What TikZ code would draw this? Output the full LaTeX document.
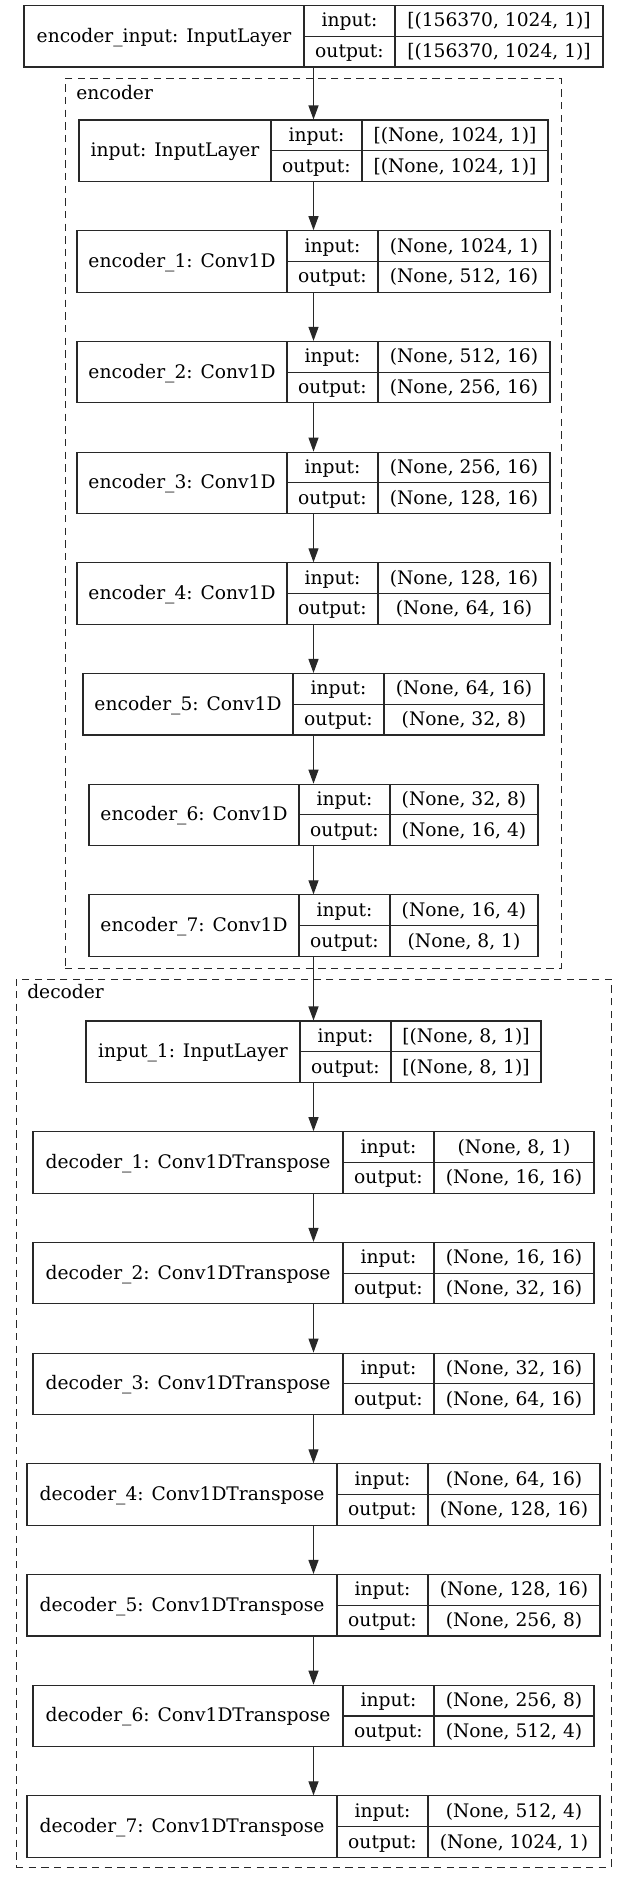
\documentclass[tikz,border=0pt]{standalone}
\usepackage{fontspec}
\setmainfont{DejaVu Serif}
\usetikzlibrary{arrows.meta}
\definecolor{linegray}{RGB}{40,40,40}
\tikzset{
  recbox/.style={draw=linegray, line width=0.8pt, inner sep=0pt, minimum height=46.125pt},
  recline/.style={draw=linegray, line width=0.8pt},
  lbl/.style={anchor=base, inner sep=0pt, font=\fontsize{14}{16}\selectfont},
  clusterbox/.style={draw=linegray, line width=0.75pt, dash pattern=on 5.5pt off 4pt, inner sep=0pt},
  clusterlbl/.style={anchor=base west, inner sep=0pt, font=\fontsize{14}{16}\selectfont},
  arr/.style={draw=linegray, line width=0.85pt, -{Triangle[length=10.5pt,width=7.5pt]}}
}
% #1 name, #2 top, #3 left, #4 div1, #5 div2, #6 right, #7 label, #8 input shape, #9 output shape
\newcommand\layerbox[9]{%
  \node[recbox, minimum width={(#6-#3)*0.75pt}] (#1) at ({(#3+#6)/2},{#2+30.75}) {};
  \draw[recline] (#4,#2) -- (#4,{#2+61.5});
  \draw[recline] (#5,#2) -- (#5,{#2+61.5});
  \draw[recline] (#4,{#2+30.75}) -- (#6,{#2+30.75});
  \node[lbl] (#1-name) at ({(#3+#4)/2},{#2+36.75}) {#7};
  \node[lbl] (#1-inlbl) at ({(#4+#5)/2},{#2+21.4}) {input:};
  \node[lbl] (#1-outlbl) at ({(#4+#5)/2},{#2+52.1}) {output:};
  \node[lbl] (#1-in) at ({(#5+#6)/2},{#2+21.4}) {#8};
  \node[lbl] (#1-out) at ({(#5+#6)/2},{#2+52.1}) {#9};
}
\begin{document}
\begin{tikzpicture}[x=0.75pt, y=-0.75pt]
\useasboundingbox (0,0) rectangle (624,1884);
% clusters
\node[clusterbox, minimum width={496.5*0.75pt}, minimum height={889*0.75pt}] (encoder) at (313.25,523.5) {};
\node[clusterlbl] (encoder-label) at (76,99) {encoder};
\node[clusterbox, minimum width={595*0.75pt}, minimum height={888*0.75pt}] (decoder) at (313.5,1423) {};
\node[clusterlbl] (decoder-label) at (27,998.5) {decoder};
% layers
\layerbox{top}{5.5}{24}{304}{395}{603}{encoder\_input: InputLayer}{[(156370, 1024, 1)]}{[(156370, 1024, 1)]}
\layerbox{inp}{120}{79}{271}{362}{548}{input: InputLayer}{[(None, 1024, 1)]}{[(None, 1024, 1)]}
\layerbox{e1}{230.7}{77}{287}{378}{550}{encoder\_1: Conv1D}{(None, 1024, 1)}{(None, 512, 16)}
\layerbox{e2}{341.4}{77}{287}{378}{550}{encoder\_2: Conv1D}{(None, 512, 16)}{(None, 256, 16)}
\layerbox{e3}{452.1}{77}{287}{378}{550}{encoder\_3: Conv1D}{(None, 256, 16)}{(None, 128, 16)}
\layerbox{e4}{562.8}{77}{287}{378}{550}{encoder\_4: Conv1D}{(None, 128, 16)}{(None, 64, 16)}
\layerbox{e5}{673.5}{83}{293}{384}{544}{encoder\_5: Conv1D}{(None, 64, 16)}{(None, 32, 8)}
\layerbox{e6}{784.2}{89}{299}{390}{538}{encoder\_6: Conv1D}{(None, 32, 8)}{(None, 16, 4)}
\layerbox{e7}{894.9}{89}{299}{390}{538}{encoder\_7: Conv1D}{(None, 16, 4)}{(None, 8, 1)}
\layerbox{inp1}{1021}{86}{300}{391}{541}{input\_1: InputLayer}{[(None, 8, 1)]}{[(None, 8, 1)]}
\layerbox{d1}{1131.7}{33}{343}{434}{594}{decoder\_1: Conv1DTranspose}{(None, 8, 1)}{(None, 16, 16)}
\layerbox{d2}{1242.4}{33}{343}{434}{594}{decoder\_2: Conv1DTranspose}{(None, 16, 16)}{(None, 32, 16)}
\layerbox{d3}{1353.1}{33}{343}{434}{594}{decoder\_3: Conv1DTranspose}{(None, 32, 16)}{(None, 64, 16)}
\layerbox{d4}{1463.8}{27}{337}{428}{600}{decoder\_4: Conv1DTranspose}{(None, 64, 16)}{(None, 128, 16)}
\layerbox{d5}{1574.5}{27}{337}{428}{600}{decoder\_5: Conv1DTranspose}{(None, 128, 16)}{(None, 256, 8)}
\layerbox{d6}{1685.2}{33}{343}{434}{594}{decoder\_6: Conv1DTranspose}{(None, 256, 8)}{(None, 512, 4)}
\layerbox{d7}{1795.9}{27}{337}{428}{600}{decoder\_7: Conv1DTranspose}{(None, 512, 4)}{(None, 1024, 1)}
% connectors
\draw[arr] (top.south) -- (inp.north);
\draw[arr] (inp.south) -- (e1.north);
\draw[arr] (e1.south) -- (e2.north);
\draw[arr] (e2.south) -- (e3.north);
\draw[arr] (e3.south) -- (e4.north);
\draw[arr] (e4.south) -- (e5.north);
\draw[arr] (e5.south) -- (e6.north);
\draw[arr] (e6.south) -- (e7.north);
\draw[arr] (e7.south) -- (inp1.north);
\draw[arr] (inp1.south) -- (d1.north);
\draw[arr] (d1.south) -- (d2.north);
\draw[arr] (d2.south) -- (d3.north);
\draw[arr] (d3.south) -- (d4.north);
\draw[arr] (d4.south) -- (d5.north);
\draw[arr] (d5.south) -- (d6.north);
\draw[arr] (d6.south) -- (d7.north);
\end{tikzpicture}
\end{document}
